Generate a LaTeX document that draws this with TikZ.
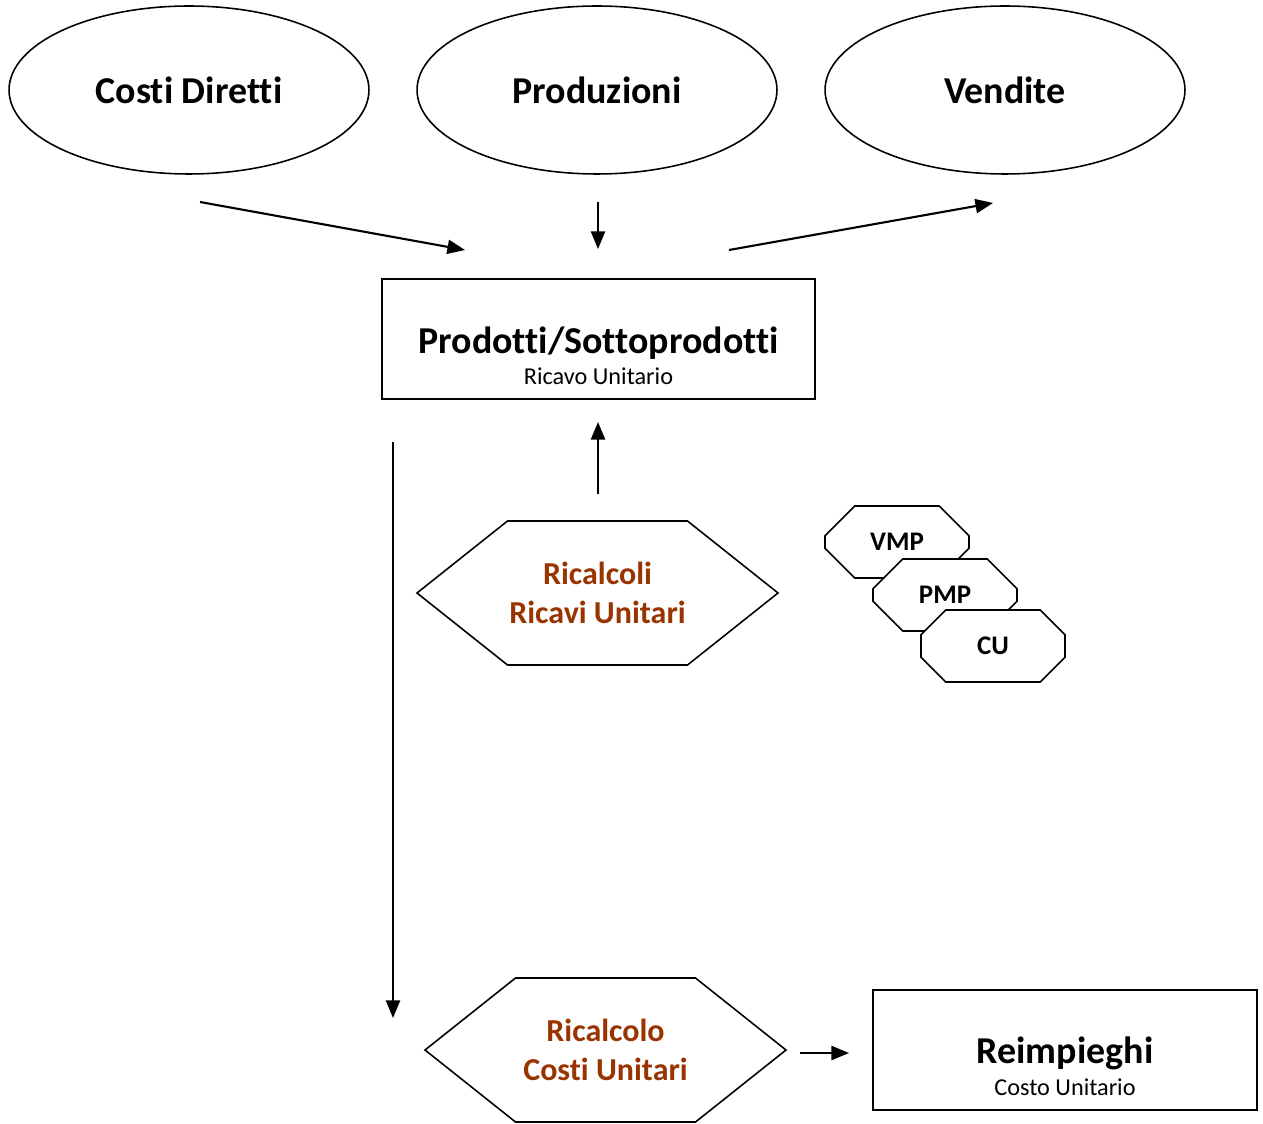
\documentclass[tikz,border=0pt]{standalone}
\usepackage{fontspec}
\setmainfont[Ligatures={NoCommon}]{Carlito}
\usetikzlibrary{shapes.geometric,shapes.misc,arrows.meta}

\definecolor{ricalcolo}{RGB}{153,51,0}

\tikzset{
	oval/.style={ellipse, draw, line width=0.9pt, minimum width=7.2cm, minimum height=3.36cm, font=\fontsize{21.6}{26}\selectfont\bfseries},
	scheda/.style={rectangle, draw, line width=0.9pt, inner sep=0pt},
	titolo/.style={anchor=base, inner sep=0pt, font=\fontsize{21.6}{26}\selectfont\bfseries},
	sotto/.style={anchor=base, inner sep=0pt, font=\fontsize{13.8}{16}\selectfont},
	ricalc/.style={align=center, inner sep=0pt, text=ricalcolo, font=\fontsize{18.2}{22}\selectfont\bfseries},
	esagono/.style={line width=0.9pt},
	prezzo/.style={chamfered rectangle, chamfered rectangle xsep=0.42cm, chamfered rectangle ysep=0.42cm, draw, fill=white, line width=0.9pt, minimum width=2.88cm, minimum height=1.44cm, inner sep=0pt, font=\fontsize{15.3}{18}\selectfont\bfseries},
	freccia/.style={-{Triangle[length=10pt,width=8pt]}, line width=1.2pt},
}

\begin{document}
\begin{tikzpicture}[x=0.02cm, y=-0.02cm]
	\useasboundingbox (0,0) rectangle (1263,1124);

	% ellissi in alto
	\foreach \nome/\xc/\testo in {costi/189/Costi Diretti, produzioni/597/Produzioni, vendite/1005/Vendite}
		\node[oval] (\nome) at (\xc,90) {\testo};

	% prodotti
	\node[scheda, minimum width=8.66cm, minimum height=2.4cm] (prodotti) at (598.5,339) {};
	\node[titolo] (prodotti-titolo) at (598.5,354) {Prodotti/Sottoprodotti};
	\node[sotto] (prodotti-sotto) at (598.5,385) {Ricavo Unitario};

	\coordinate (c1) at (200,202);
	\coordinate (c2) at (465,250);
	\coordinate (p1) at (598,202);
	\coordinate (p2) at (598,249);
	\coordinate (v1) at (729,250);
	\coordinate (v2) at (993,203);
	\draw[freccia] (c1) -- (c2);
	\draw[freccia] (p1) -- (p2);
	\draw[freccia] (v1) -- (v2);

	% ricalcoli
	\node[ricalc] (ricavi) at (597.5,593) {Ricalcoli\\Ricavi Unitari};
	\node[ricalc] (costiunit) at (605.5,1050) {Ricalcolo\\Costi Unitari};
	\foreach \h in {ricavi,costiunit}
		\draw[esagono] ([shift={(-180.5,0)}]\h.center) -- ([shift={(-90,-72)}]\h.center)
			-- ([shift={(90,-72)}]\h.center) -- ([shift={(180.5,0)}]\h.center)
			-- ([shift={(90,72)}]\h.center) -- ([shift={(-90,72)}]\h.center) -- cycle;

	\coordinate (r1) at (598,494);
	\coordinate (r2) at (598,422);
	\draw[freccia] (r1) -- (r2);

	\foreach \nome/\xc/\yc in {VMP/897/542, PMP/945/595, CU/993/646}
		\node[prezzo] (\nome) at (\xc,\yc) {\nome};

	% reimpieghi
	\coordinate (s1) at (393,442);
	\coordinate (s2) at (393,1018);
	\draw[freccia] (s1) -- (s2);

	\node[scheda, minimum width=7.68cm, minimum height=2.4cm] (reimpieghi) at (1065,1050) {};
	\node[titolo] (reimpieghi-titolo) at (1065,1063) {Reimpieghi};
	\node[sotto] (reimpieghi-sotto) at (1065,1095) {Costo Unitario};

	\coordinate (e1) at (800,1053);
	\coordinate (e2) at (849,1053);
	\draw[freccia] (e1) -- (e2);

\end{tikzpicture}
\end{document}
